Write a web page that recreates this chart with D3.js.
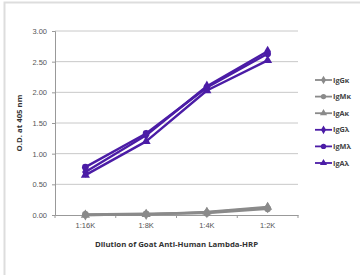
<!DOCTYPE html>
<html>
<head>
<meta charset="utf-8">
<style>
  body { margin: 0; background: #fff; }
  svg { display: block; font-family: 'Open Sans', 'Noto Sans', sans-serif; }
  .grid line { stroke: #c8c8c8; stroke-width: 1; }
  .axis text { font-size: 7.5px; fill: #555; }
  .axis .domain, .axis .tick line { stroke: #999; }
  .title { font-size: 7.8px; font-weight: bold; fill: #333; }
  .legend text { font-size: 7.3px; font-weight: bold; fill: #444; }
</style>
</head>
<body>
<svg width="360" height="275"></svg>
<script src="https://d3js.org/d3.v7.min.js"></script>
<script>
// data
let dilutions = ["1:16K", "1:8K", "1:4K", "1:2K"];
let seriesNames = ["IgG\u03ba", "IgM\u03ba", "IgA\u03ba", "IgG\u03bb", "IgM\u03bb", "IgA\u03bb"];
let IgGk = [0.00, 0.01, 0.04, 0.12];
let IgMk = [0.01, 0.02, 0.03, 0.10];
let IgAk = [0.00, 0.01, 0.05, 0.13];
let IgGl = [0.70, 1.30, 2.10, 2.67];
let IgMl = [0.78, 1.33, 2.08, 2.63];
let IgAl = [0.65, 1.20, 2.03, 2.52];
let yTicks = [0, 0.5, 1, 1.5, 2, 2.5, 3];

let seriesValues = [IgGk, IgMk, IgAk, IgGl, IgMl, IgAl];
let colors = ["#8a8a8a", "#8a8a8a", "#8a8a8a", "#4b1ca6", "#4b1ca6", "#4b1ca6"];
let symbols = [d3.symbolDiamond, d3.symbolCircle, d3.symbolTriangle, d3.symbolDiamond, d3.symbolCircle, d3.symbolTriangle];

let svg = d3.select("svg");

// frame
svg.append("rect")
  .attr("x", 4.5).attr("y", 2.5)
  .attr("width", 380).attr("height", 300)
  .attr("fill", "none").attr("stroke", "#ddd").attr("stroke-width", 2);

let margin = { top: 31, right: 62, bottom: 60, left: 55 };
let width = 360, height = 275;

let x = d3.scaleBand()
  .domain(dilutions)
  .range([margin.left, width - margin.right]);

let y = d3.scaleLinear()
  .domain([0, 3])
  .range([height - margin.bottom, margin.top]);

// gridlines
svg.append("g")
  .attr("class", "grid")
  .selectAll("line")
  .data(yTicks.slice(1))
  .join("line")
  .attr("x1", margin.left).attr("x2", width - margin.right)
  .attr("y1", d => y(d)).attr("y2", d => y(d));

// y axis
svg.append("g")
  .attr("class", "axis")
  .attr("transform", `translate(${margin.left},0)`)
  .call(d3.axisLeft(y).tickValues(yTicks).tickFormat(d3.format(".2f")).tickSize(3).tickPadding(5));

// x axis with ticks between categories
let xAxis = svg.append("g")
  .attr("class", "axis")
  .attr("transform", `translate(0,${y(0)})`)
  .call(d3.axisBottom(x).tickSize(0).tickPadding(8));

let bounds = x.domain().map(d => x(d)).concat([x.range()[1]]);
xAxis.selectAll(".sep")
  .data(bounds)
  .join("line")
  .attr("class", "sep")
  .attr("x1", d => d).attr("x2", d => d)
  .attr("y1", 0).attr("y2", 3)
  .attr("stroke", "#999");

// titles
svg.append("text")
  .attr("class", "title")
  .attr("x", (margin.left + width - margin.right) / 2)
  .attr("y", 247)
  .attr("text-anchor", "middle")
  .text("Dilution of Goat Anti-Human Lambda-HRP");

svg.append("text")
  .attr("class", "title")
  .attr("transform", `translate(22,${(y(0) + y(3)) / 2}) rotate(-90)`)
  .attr("text-anchor", "middle")
  .text("O.D. at 405 nm");

// lines
let line = d3.line()
  .x((d, i) => x(dilutions[i]) + x.bandwidth() / 2)
  .y(d => y(d));

let series = svg.append("g")
  .selectAll("g")
  .data(seriesValues)
  .join("g");

series.append("path")
  .attr("d", d => line(d))
  .attr("fill", "none")
  .attr("stroke", (d, i) => colors[i])
  .attr("stroke-width", 2.4)
  .attr("stroke-linejoin", "round");

series.each(function (vals, si) {
  d3.select(this).selectAll(".pt")
    .data(vals)
    .join("path")
    .attr("class", "pt")
    .attr("transform", (d, i) => `translate(${x(dilutions[i]) + x.bandwidth() / 2},${y(d)})`)
    .attr("d", d3.symbol().type(symbols[si]).size(36))
    .attr("fill", colors[si]);
});

// legend
let legend = svg.append("g")
  .attr("class", "legend")
  .selectAll("g")
  .data(seriesNames)
  .join("g")
  .attr("transform", (d, i) => `translate(315,${80 + i * 16.6})`);

legend.append("line")
  .attr("x1", 0).attr("x2", 17)
  .attr("stroke", (d, i) => colors[i])
  .attr("stroke-width", 1.8);

legend.append("path")
  .attr("transform", "translate(8.5,0)")
  .attr("d", (d, i) => d3.symbol().type(symbols[i]).size(22)())
  .attr("fill", (d, i) => colors[i]);

legend.append("text")
  .attr("x", 18)
  .attr("dy", "0.35em")
  .text(d => d);
</script>
</body>
</html>
